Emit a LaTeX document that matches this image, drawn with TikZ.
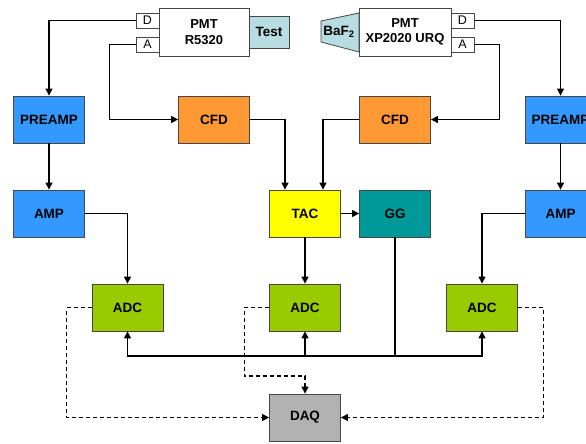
\documentclass[tikz,border=0pt]{standalone}
\usepackage{fontspec}
\setmainfont{Liberation Sans}
\usetikzlibrary{arrows.meta}

\definecolor{boxline}{RGB}{70,70,70}
\definecolor{ampblue}{RGB}{51,153,255}
\definecolor{cfdorange}{RGB}{255,153,51}
\definecolor{tacyellow}{RGB}{255,255,0}
\definecolor{ggteal}{RGB}{0,153,153}
\definecolor{adcgreen}{RGB}{153,204,0}
\definecolor{daqgray}{RGB}{178,178,178}
\definecolor{crystal}{RGB}{183,221,225}

\begin{document}
\begin{tikzpicture}[x=1pt, y=-1pt,
    box/.style={draw=boxline, line width=0.8pt, minimum width=71pt, minimum height=47pt,
      inner sep=0pt, font=\fontsize{13.5}{15}\selectfont\bfseries},
    pmtbox/.style={box, fill=white, minimum height=48pt, align=center,
      font=\fontsize{13}{15.5}\selectfont\bfseries},
    pin/.style={draw=boxline, fill=white, line width=0.8pt, minimum width=23pt,
      minimum height=15pt, inner sep=0pt, font=\fontsize{12.5}{12.5}\selectfont},
    wire/.style={line width=1.1pt, -{Triangle[length=7pt,width=7pt]}},
    dwire/.style={wire, dash pattern=on 4pt off 3pt}]

    \useasboundingbox (0,0) rectangle (586,444);
    \clip (0,0) rectangle (586,444);

    % photomultipliers
    \node[pmtbox, minimum width=90pt] (pmtl) at (204,32) {PMT\\R5320};
    \node[pin] (dl) at (147.5,20.5) {D};
    \node[pin] (al) at (147.5,44.5) {A};
    \node[box, fill=crystal, minimum width=40pt, minimum height=32pt] (test) at (269,32) {Test};

    \node[pmtbox, minimum width=92pt] (pmtr) at (405,32) {PMT\\XP2020 URQ};
    \node[pin] (dr) at (462.5,20.5) {D};
    \node[pin] (ar) at (462.5,44.5) {A};
    \draw[boxline, fill=crystal, line width=0.8pt] (321,21) -- (359,13) -- (359,52) -- (321,42) -- cycle;
    \node[font=\fontsize{13.5}{15}\selectfont\bfseries] (baf) at (339,32) {BaF\textsubscript{2}};

    % modules
    \node[box, fill=ampblue] (preampl) at (49,119.5) {PREAMP};
    \node[box, fill=cfdorange] (cfdl) at (214,119.5) {CFD};
    \node[box, fill=cfdorange] (cfdr) at (395,119.5) {CFD};
    \node[box, fill=ampblue] (preampr) at (560.5,119.5) {PREAMP};

    \node[box, fill=ampblue] (ampl) at (49,213.5) {AMP};
    \node[box, fill=tacyellow] (tac) at (305,213.5) {TAC};
    \node[box, fill=ggteal] (gg) at (395,213.5) {GG};
    \node[box, fill=ampblue] (ampr) at (560.5,213.5) {AMP};

    \node[box, fill=adcgreen] (adcl) at (127.5,307.5) {ADC};
    \node[box, fill=adcgreen] (adcm) at (305,307.5) {ADC};
    \node[box, fill=adcgreen] (adcr) at (482,307.5) {ADC};

    \node[box, fill=daqgray] (daq) at (305,417.5) {DAQ};

    \coordinate (bus) at (0,356);

    % signal lines
    \draw[wire] (dl.west) -| (preampl.north);
    \draw[wire] (al.west) -- ++(-26,0) |- (cfdl.west);
    \draw[wire] (cfdl.east) -| ([xshift=-20pt]tac.north);
    \draw[wire] (cfdr.west) -| ([xshift=18pt]tac.north);
    \draw[wire] (ar.east) -- ++(25,0) |- (cfdr.east);
    \draw[wire] (dr.east) -| (preampr.north);

    \draw[wire] (preampl) -- (ampl);
    \draw[wire] (preampr) -- (ampr);
    \draw[wire] (ampl.east) -| (adcl.north);
    \draw[wire] (ampr.west) -| (adcr.north);
    \draw[wire] (tac) -- (gg);
    \draw[wire] (tac) -- (adcm);

    % gate
    \draw[wire] (gg.south) |- (adcl.south |- bus) -- (adcl.south);
    \draw[wire] (gg.south) |- (adcr.south |- bus) -- (adcr.south);
    \draw[wire] (adcm.south |- bus) -- (adcm.south);

    % readout
    \draw[dwire] (adcl.west) -- ++(-25,0) |- (daq.west);
    \draw[dwire] (adcr.east) -- ++(25.5,0) |- (daq.east);
    \draw[dwire] (adcm.west) -- ++(-25,0) -- ++(0,68.5) -| (daq.north);

\end{tikzpicture}
\end{document}
